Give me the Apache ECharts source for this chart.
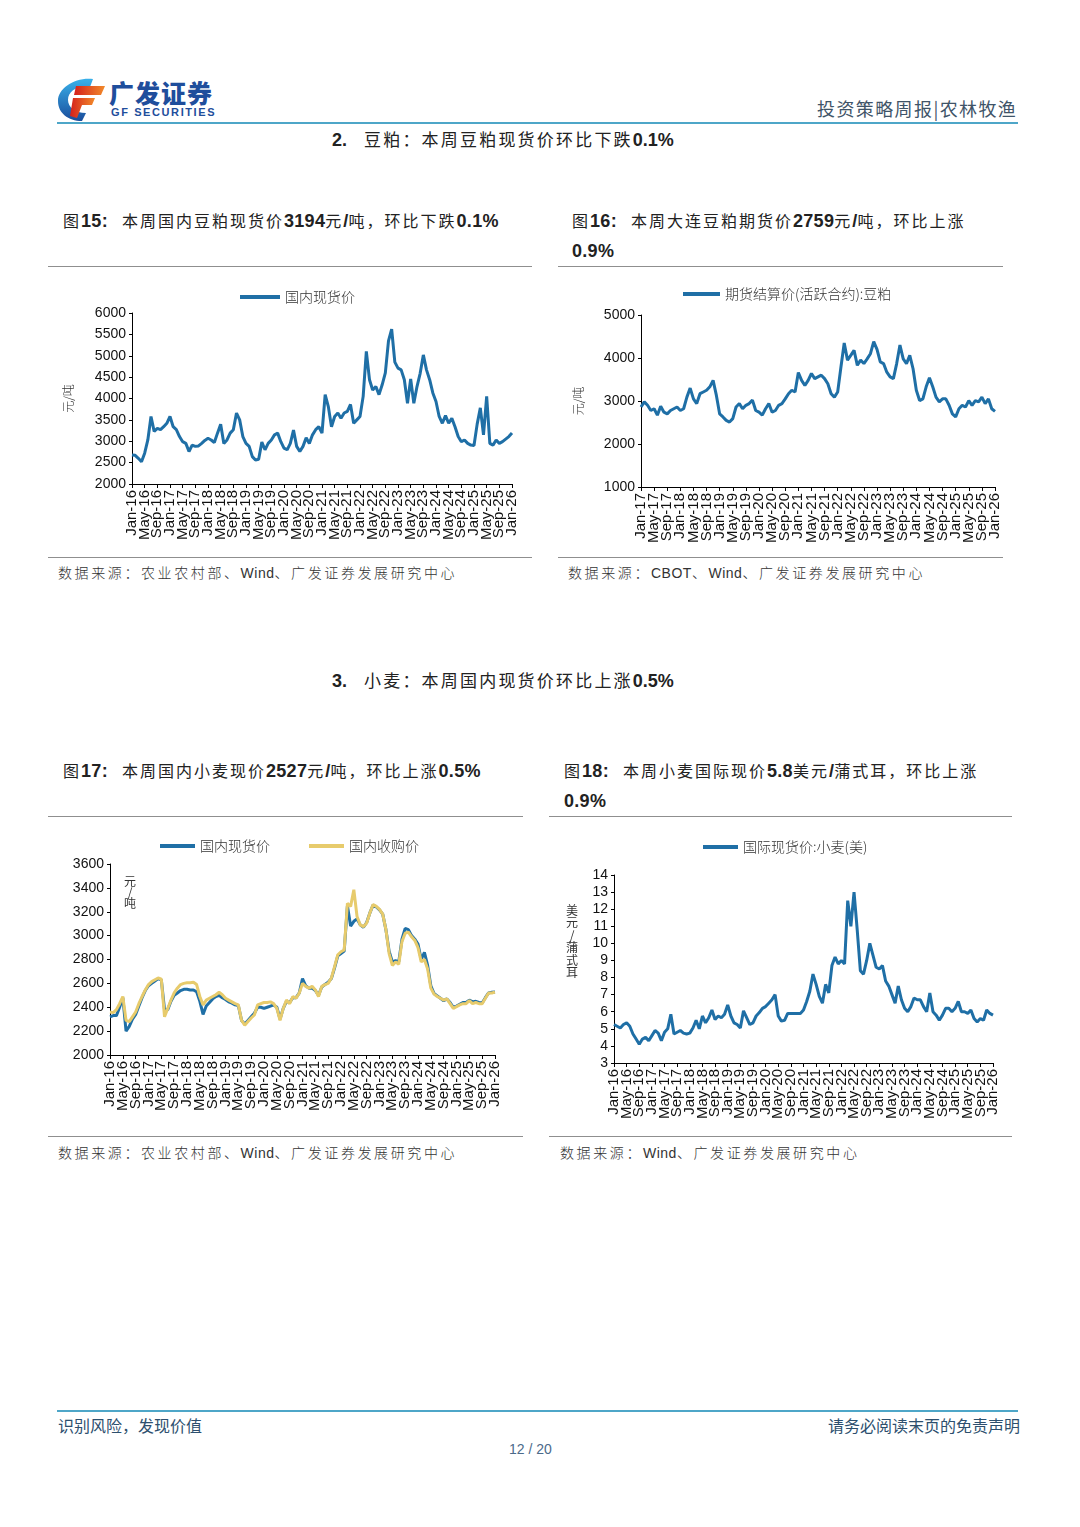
<!DOCTYPE html>
<html><head><meta charset="utf-8">
<script src="https://cdn.jsdelivr.net/npm/echarts@6/dist/echarts.min.js"></script>
<style>
html,body{margin:0;padding:0;background:#fff;}
body{width:1080px;height:1527px;position:relative;overflow:hidden;font-family:"Noto Sans CJK SC",sans-serif;}
.t{position:absolute;white-space:nowrap;line-height:1;}
.b{font-family:"Liberation Sans",Arial,sans-serif;font-weight:bold;letter-spacing:0;}
.ttl{font-size:16px;letter-spacing:2px;color:#222;}
.ttl .b{font-size:18px;letter-spacing:0.3px;}
.sec{font-size:17px;letter-spacing:2.2px;color:#222;}
.sec .b{font-size:18px;}
.src{font-size:14px;letter-spacing:2.6px;color:#333;font-weight:300;}
.src .w{font-family:"Liberation Sans",Arial,sans-serif;letter-spacing:0.5px;font-weight:normal;}
.ln{position:absolute;height:1px;background:#8f8f8f;}
.hl{position:absolute;height:2px;background:#4ea6c8;}
.ch{position:absolute;}
.sp{display:inline-block;}
</style></head>
<body>
<!-- header -->
<svg class="ch" style="left:55px;top:76px" width="52" height="46" viewBox="0 0 52 46">
 <defs>
  <linearGradient id="gb" x1="0" y1="0" x2="0" y2="1"><stop offset="0" stop-color="#39b1ea"/><stop offset="1" stop-color="#1a4d9c"/></linearGradient>
  <linearGradient id="gr" x1="0" y1="0" x2="1" y2="0"><stop offset="0" stop-color="#d4201c"/><stop offset="1" stop-color="#f28a2a"/></linearGradient>
 </defs>
 <path d="M38 3 C20 1,3 12,3 25 C3 37,13 45,27 45 L31 37 C20 37,13 31,13 24 C13 15,23 9,35 11 Z" fill="url(#gb)"/>
 <path d="M21 10 L50 10 L46 19 L19 19 Z" fill="url(#gr)"/>
 <path d="M18 22 L40 22 L37 29 L27 29 L22 42 L15 40 Z" fill="url(#gr)"/>
</svg>
<div class="t" style="left:109px;top:80px;font-size:25px;font-weight:900;letter-spacing:1px;color:#1f4e9c;">广发证券</div>
<div class="t b" style="left:111px;top:107px;font-size:11px;letter-spacing:1.6px;color:#1f4e9c;">GF SECURITIES</div>
<div class="t" style="left:817px;top:99px;font-size:18px;letter-spacing:1.4px;color:#3f5468;">投资策略周报|农林牧渔</div>
<div class="hl" style="left:57px;top:122px;width:961px;"></div>

<div class="t sec" style="left:332px;top:130px;"><span class="b">2.</span><span class="sp" style="width:17px"></span>豆粕：本周豆粕现货价环比下跌<span class="b">0.1%</span></div>

<div class="t ttl" style="left:63px;top:212px;">图<span class="b">15:</span><span class="sp" style="width:14px"></span>本周国内豆粕现货价<span class="b">3194</span>元<span class="b">/</span>吨，环比下跌<span class="b">0.1%</span></div>
<div class="ln" style="left:48px;top:266px;width:484px;"></div>
<div class="t ttl" style="left:572px;top:212px;">图<span class="b">16:</span><span class="sp" style="width:14px"></span>本周大连豆粕期货价<span class="b">2759</span>元<span class="b">/</span>吨，环比上涨</div>
<div class="t ttl" style="left:572px;top:242px;"><span class="b">0.9%</span></div>
<div class="ln" style="left:558px;top:266px;width:445px;"></div>

<div id="c1" class="ch" style="left:48px;top:280px;width:484px;height:275px;"></div>
<div id="c2" class="ch" style="left:558px;top:280px;width:445px;height:275px;"></div>

<div class="ln" style="left:48px;top:557px;width:484px;"></div>
<div class="ln" style="left:558px;top:557px;width:445px;"></div>
<div class="t src" style="left:58px;top:565px;">数据来源：农业农村部、<span class="w">Wind</span>、广发证券发展研究中心</div>
<div class="t src" style="left:568px;top:565px;">数据来源：<span class="w">CBOT</span>、<span class="w">Wind</span>、广发证券发展研究中心</div>

<div class="t sec" style="left:332px;top:671px;"><span class="b">3.</span><span class="sp" style="width:17px"></span>小麦：本周国内现货价环比上涨<span class="b">0.5%</span></div>

<div class="t ttl" style="left:63px;top:762px;">图<span class="b">17:</span><span class="sp" style="width:14px"></span>本周国内小麦现价<span class="b">2527</span>元<span class="b">/</span>吨，环比上涨<span class="b">0.5%</span></div>
<div class="ln" style="left:48px;top:816px;width:475px;"></div>
<div class="t ttl" style="left:564px;top:762px;">图<span class="b">18:</span><span class="sp" style="width:14px"></span>本周小麦国际现价<span class="b">5.8</span>美元<span class="b">/</span>蒲式耳，环比上涨</div>
<div class="t ttl" style="left:564px;top:792px;"><span class="b">0.9%</span></div>
<div class="ln" style="left:549px;top:816px;width:463px;"></div>

<div id="c3" class="ch" style="left:48px;top:830px;width:475px;height:305px;"></div>
<div id="c4" class="ch" style="left:549px;top:830px;width:463px;height:305px;"></div>

<div class="ln" style="left:48px;top:1136px;width:475px;"></div>
<div class="ln" style="left:549px;top:1136px;width:463px;"></div>
<div class="t src" style="left:58px;top:1145px;">数据来源：农业农村部、<span class="w">Wind</span>、广发证券发展研究中心</div>
<div class="t src" style="left:560px;top:1145px;">数据来源：<span class="w">Wind</span>、广发证券发展研究中心</div>

<!-- footer -->
<div class="hl" style="left:57px;top:1410px;width:961px;"></div>
<div class="t" style="left:58px;top:1417px;font-size:16px;color:#2d4f6e;">识别风险，发现价值</div>
<div class="t" style="right:60px;top:1417px;font-size:16px;color:#2d4f6e;">请务必阅读末页的免责声明</div>
<div class="t" style="left:509px;top:1442px;font-size:14px;color:#4b6a8a;font-family:'Liberation Sans',Arial;">12 / 20</div>

<script>
// ---------- tick labels ----------
const MONTHS = ['Jan','Feb','Mar','Apr','May','Jun','Jul','Aug','Sep','Oct','Nov','Dec'];
function monthLabels(startYear, endYear) {
  const out = [];
  for (let y = startYear; y <= endYear; y++) {
    for (let m = 0; m < 12; m++) {
      out.push(MONTHS[m] + '-' + String(y % 100).padStart(2, '0'));
      if (y === endYear) return out;
    }
  }
  return out;
}
const cats16 = monthLabels(2016, 2026); // Jan-16 .. Jan-26
const cats17 = monthLabels(2017, 2026); // Jan-17 .. Jan-26

// ---------- data (monthly readings, 元/吨 or 美元/蒲式耳) ----------
const soyMealSpot = [
  2680,2670,2600,2520,2720,3030,3580,3230,3300,3270,3340,3420,
  3580,3340,3270,3110,2990,2950,2760,2910,2880,2890,2950,3020,
  3070,3030,2970,3190,3400,2950,3030,3190,3270,3660,3500,3110,
  2950,2880,2640,2560,2580,2980,2800,2950,3030,3150,3190,2990,
  2840,2800,2950,3260,2880,2760,2880,3080,2950,3150,3270,3340,
  3190,4090,3810,3340,3580,3660,3540,3660,3700,3860,3420,3500,
  3580,4050,5100,4440,4200,4280,4090,4320,4600,5350,5620,4850,
  4710,4670,4440,3890,4460,3890,4280,4590,5020,4670,4440,4130,
  3930,3580,3420,3600,3420,3540,3340,3110,2990,3030,2950,2910,
  2900,3400,3780,3150,4050,2950,2910,3030,2950,2990,3050,3110,
  3194
];
const soyMealFutures = [
  2860,2980,2900,2780,2820,2670,2880,2740,2700,2780,2820,2860,
  2780,2820,3090,3300,3050,2940,3170,3210,3250,3330,3480,3130,
  2700,2630,2550,2510,2590,2860,2940,2820,2900,2940,3020,2780,
  2740,2670,2820,2940,2740,2780,2900,2940,3050,3170,3250,3210,
  3660,3480,3360,3480,3640,3520,3560,3600,3520,3400,3170,3090,
  3210,3790,4350,3950,4060,4180,3830,3950,3870,3980,4100,4380,
  4200,3910,3870,3670,3560,3520,3870,4300,3980,3870,4060,3750,
  3250,3010,3050,3330,3540,3330,3090,2980,3050,3050,2900,2700,
  2630,2820,2900,2860,3010,2900,3010,2980,3090,2940,3050,2820,
  2759
];
const wheatSpot = [
  2320,2330,2330,2400,2480,2200,2240,2300,2340,2410,2480,2540,
  2580,2600,2620,2640,2630,2380,2380,2450,2500,2520,2540,2550,
  2550,2545,2545,2530,2450,2340,2410,2440,2470,2490,2500,2480,
  2465,2445,2435,2420,2415,2290,2260,2290,2320,2350,2400,2400,
  2390,2400,2410,2420,2400,2300,2390,2450,2440,2480,2480,2520,
  2640,2580,2560,2560,2540,2500,2570,2590,2610,2640,2730,2830,
  2850,2870,3250,3080,3120,3140,3090,3070,3110,3190,3255,3240,
  3215,3180,3050,2870,2780,2790,2780,2970,3060,3050,3000,2970,
  2930,2800,2860,2750,2580,2515,2495,2475,2455,2470,2440,2400,
  2410,2425,2440,2440,2460,2445,2450,2440,2435,2480,2520,2525,
  2527
];
const wheatPurchase = [
  2360,2355,2380,2430,2490,2290,2280,2320,2360,2430,2490,2545,
  2590,2615,2630,2645,2635,2320,2390,2460,2520,2560,2590,2600,
  2605,2605,2610,2590,2490,2420,2460,2475,2490,2505,2525,2505,
  2475,2460,2445,2430,2420,2290,2250,2280,2310,2335,2420,2430,
  2440,2440,2445,2430,2390,2290,2390,2460,2430,2490,2475,2520,
  2600,2575,2560,2575,2545,2490,2575,2590,2600,2645,2740,2840,
  2865,2880,3270,3245,3385,3160,3090,3075,3105,3190,3260,3245,
  3220,3180,3050,2850,2750,2780,2760,2950,3020,3030,2990,2960,
  2900,2780,2800,2720,2560,2510,2490,2475,2460,2470,2430,2390,
  2405,2420,2430,2430,2455,2430,2440,2430,2430,2475,2520,2520,
  2527
];
const wheatIntl = [
  5.25,5.15,5.05,5.25,5.35,5.15,4.7,4.4,4.1,4.4,4.5,4.3,
  4.6,4.9,4.75,4.3,4.8,5.0,5.85,4.7,4.8,4.9,4.75,4.7,
  4.75,5.05,5.5,5.0,5.75,5.35,5.65,6.1,5.55,5.75,5.65,5.85,
  6.4,5.75,5.35,5.25,5.05,6.05,5.65,5.25,5.35,5.75,5.95,6.2,
  6.3,6.5,6.7,7.0,5.75,5.45,5.5,5.9,5.9,5.9,5.9,5.9,
  6.1,6.6,7.2,8.2,7.6,6.9,6.5,7.6,7.1,8.7,9.2,8.8,
  9.0,8.8,12.5,11.0,13.0,10.8,8.4,8.2,9.0,10.0,9.3,8.6,
  8.5,8.7,7.8,7.5,7.0,6.5,7.5,6.7,6.2,6.0,6.3,6.8,
  6.7,6.7,6.3,6.0,7.1,6.0,5.8,5.5,5.8,6.2,6.2,6.0,
  6.2,6.6,6.0,6.0,5.9,6.1,5.6,5.4,5.6,5.5,6.1,5.9,
  5.8
];

const BLUE = '#1f6fa6';
const GOLD = '#e7cb6c';
const NUM_FONT = 'Liberation Sans, Arial, sans-serif';
const CJK_FONT = 'Noto Sans CJK SC';
const LABEL_STEP = 4; // one tick label every 4 months

function makeOption(cfg) {
  return {
    animation: false,
    backgroundColor: '#fff',
    grid: { left: cfg.grid[0], top: cfg.grid[1], width: cfg.grid[2], height: cfg.grid[3], containLabel: false },
    legend: {
      left: cfg.legend[0], top: cfg.legend[1], padding: 0,
      itemWidth: cfg.legend[2], itemHeight: 4, itemGap: 39, icon: 'rect',
      textStyle: { fontSize: 14, fontFamily: CJK_FONT, fontWeight: 300, color: '#333' },
      data: cfg.series.map(s => s.name)
    },
    xAxis: {
      type: 'category', data: cfg.cats, boundaryGap: false,
      axisLine: { lineStyle: { color: '#000', width: 1 } },
      axisTick: { show: true, interval: LABEL_STEP - 1, alignWithLabel: true, length: 4, lineStyle: { color: '#000' } },
      axisLabel: { interval: 0, rotate: 90, fontSize: 15, fontFamily: NUM_FONT, color: '#111', margin: 6,
                   formatter: (val, idx) => (idx % LABEL_STEP === 0 ? val : '') },
      splitLine: { show: false }
    },
    yAxis: {
      type: 'value', min: cfg.y[0], max: cfg.y[1], interval: cfg.y[2],
      axisLine: { show: true, lineStyle: { color: '#000', width: 1 } },
      axisTick: { show: true, length: 3, lineStyle: { color: '#000' } },
      axisLabel: { fontSize: 14, fontFamily: NUM_FONT, color: '#111', margin: 6, formatter: v => String(v) },
      splitLine: { show: false },
      name: cfg.yName || '', nameLocation: 'middle', nameRotate: 90, nameGap: cfg.yNameGap || 0,
      nameTextStyle: { fontSize: 12, fontFamily: CJK_FONT, fontWeight: 300, color: '#333' }
    },
    graphic: cfg.graphic || [],
    series: cfg.series.map(s => ({
      name: s.name, type: 'line', data: s.data, showSymbol: false, symbol: 'none',
      lineStyle: { width: 3, color: s.color }, itemStyle: { color: s.color }, z: s.z || 2
    }))
  };
}

echarts.init(document.getElementById('c1')).setOption(makeOption({
  grid: [84, 33, 380, 171], legend: [192, 10, 40], cats: cats16,
  y: [2000, 6000, 500], yName: '元/吨', yNameGap: 58,
  series: [{ name: '国内现货价', data: soyMealSpot, color: BLUE }]
}));

echarts.init(document.getElementById('c2')).setOption(makeOption({
  grid: [83, 35, 354, 172], legend: [125, 7, 37], cats: cats17,
  y: [1000, 5000, 1000], yName: '元/吨', yNameGap: 57,
  series: [{ name: '期货结算价(活跃合约):豆粕', data: soyMealFutures, color: BLUE }]
}));

echarts.init(document.getElementById('c3')).setOption(makeOption({
  grid: [62, 34, 385, 191], legend: [112, 9, 35], cats: cats16,
  y: [2000, 3600, 200],
  graphic: [{ type: 'text', x: 82, y: 46, style: { text: '元\n/\n吨', fontSize: 12, lineHeight: 11, fontFamily: CJK_FONT, fill: '#333', align: 'center', verticalAlign: 'top' } }],
  series: [
    { name: '国内现货价', data: wheatSpot, color: BLUE, z: 2 },
    { name: '国内收购价', data: wheatPurchase, color: GOLD, z: 3 }
  ]
}));

echarts.init(document.getElementById('c4')).setOption(makeOption({
  grid: [65, 45, 379, 188], legend: [154, 10, 35], cats: cats16,
  y: [3, 14, 1],
  graphic: [{ type: 'text', x: 23, y: 74, style: { text: '美\n元\n/\n蒲\n式\n耳', fontSize: 12, lineHeight: 12.5, fontFamily: CJK_FONT, fill: '#333', align: 'center', verticalAlign: 'top' } }],
  series: [{ name: '国际现货价:小麦(美)', data: wheatIntl, color: BLUE }]
}));
</script>
</body></html>
